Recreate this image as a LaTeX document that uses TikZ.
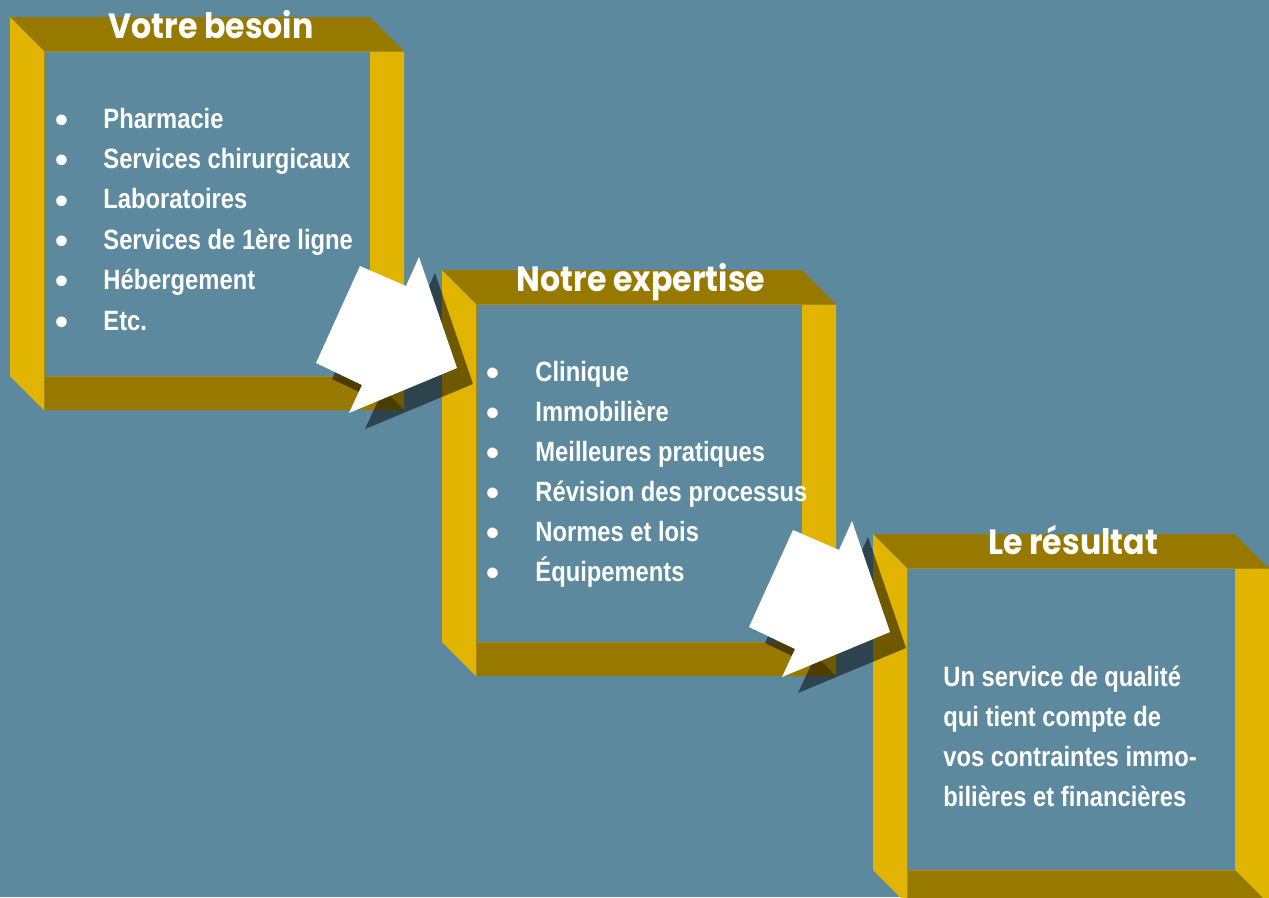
\documentclass[tikz,border=0pt]{standalone}
\usepackage{fontspec}
\newfontfamily\headfont{Poppins}[FakeStretch=0.9]
\newfontfamily\itemfont{Liberation Sans}[FakeStretch=0.85]
\newfontfamily\bulfont{Liberation Sans}
\definecolor{bg1}{RGB}{92,137,158}
\definecolor{gold1}{RGB}{224,180,0}
\definecolor{olive1}{RGB}{152,121,0}
\definecolor{edge1}{RGB}{170,136,30}

\begin{document}
\begin{tikzpicture}[x=0.02cm, y=-0.02cm, line width=0.5pt,
  head/.style={inner sep=0, anchor=base, text=white,
    font=\headfont\bfseries\fontsize{20}{24}\selectfont},
  item/.style={inner sep=0, anchor=base west, text=white,
    font=\itemfont\bfseries\fontsize{15.9}{20}\selectfont},
  bul/.style={inner sep=0, anchor=center, text=white,
    font=\bulfont\bfseries\fontsize{21}{24}\selectfont}]
  \useasboundingbox (0,0) rectangle (1269,897);
  \clip (0,0) rectangle (1269,897);
  \fill[bg1] (0,0) rectangle (1269,897);

  % the three boxes
  \foreach \fx/\fy/\fw/\fh in {10/17/394/393, 442/270/394/406, 873/534/396/370}
  {
    \begin{scope}[shift={(\fx,\fy)}]
      \fill[olive1] (0,0) -- (\fw-34,0) -- (\fw,34) -- (34,34) -- cycle;
      \fill[gold1] (0,0) -- (34,34) -- (34,\fh) -- (0,\fh-34) -- cycle;
      \fill[gold1] (\fw-34,34) -- (\fw,34) -- (\fw,\fh) -- (\fw-34,\fh-34) -- cycle;
      \fill[olive1] (34,\fh-34) -- (\fw-34,\fh-34) -- (\fw,\fh) -- (34,\fh) -- cycle;
      \draw[edge1] (34,\fh) -- (34,34) -- (\fw,34);
      \draw[edge1] (34,\fh-34) -- (\fw-34,\fh-34);
    \end{scope}
  }

  \node[head] (besoin) at (211,38) {Votre besoin};
  \node[head] (expertise) at (641,291) {Notre expertise};
  \node[head] (resultat) at (1073,554) {Le résultat};

  \foreach \t [count=\i] in {Pharmacie, Services chirurgicaux, Laboratoires,
      Services de 1ère ligne, Hébergement, Etc.}
  {
    \node[bul] (pa\i) at (62,123.5+40.4*\i-40.4) {\textbullet};
    \node[item] (a\i) at (103,128+40.4*\i-40.4) {\t};
  }
  \foreach \t [count=\i] in {Clinique, Immobilière, Meilleures pratiques,
      Révision des processus, Normes et lois, Équipements}
  {
    \node[bul] (pb\i) at (493,377+40*\i-40) {\textbullet};
    \node[item] (b\i) at (535,381.5+40*\i-40) {\t};
  }
  \foreach \t [count=\i] in {Un service de qualité, qui tient compte de,
      vos contraintes immo-, bilières et financières}
    \node[item] (c\i) at (943,686+40*\i-40) {\t};

  % arrows, shadow first
  \foreach \ax/\ay in {0/0, 433/264}
    \foreach \s/\c/\o in {16/black/0.5, 0/white/1}
      \fill[\c, fill opacity=\o, shift={(\ax+\s,\ay+\s)}]
        (360,266) -- (406,286) -- (419,257) -- (457,368) -- (349,413)
        -- (362,385) -- (316,363) -- cycle;
\end{tikzpicture}
\end{document}
